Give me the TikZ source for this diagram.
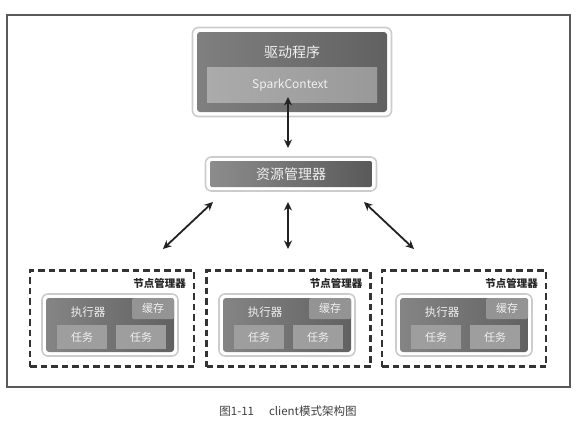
\documentclass[tikz,border=0pt]{standalone}
\usepackage{fontspec}
\setmainfont{Noto Sans CJK SC}
\usetikzlibrary{arrows.meta,calc}
\definecolor{frame}{HTML}{5A5A5A}
\definecolor{arrowc}{HTML}{222222}
\definecolor{txtl}{HTML}{F0F0F0}
\definecolor{dashc}{HTML}{333333}
\tikzset{
  glow/.style={draw=black!20, line width=1.6pt, fill=white, rounded corners=6pt, inner sep=0pt},
  darkbox/.style={rounded corners=3pt, inner sep=0pt, left color=#1, right color=black!62},
  darkbox/.default=black!52,
  lightbox/.style={fill=black!35, inner sep=0pt},
  taskbox/.style={fill=black!38, inner sep=0pt, minimum width=50pt, minimum height=24pt, font=\fontsize{11}{13}\selectfont, text=txtl},
  cachebox/.style={fill=black!42, inner sep=0pt, minimum width=42pt, minimum height=21pt, rounded corners=1.5pt, font=\fontsize{11}{13}\selectfont, text=txtl},
  wtext/.style={text=txtl, inner sep=0pt},
  nodebox/.style={draw=dashc, line width=2.1pt, dash pattern=on 6.5pt off 4pt, minimum width=164pt, minimum height=96pt, inner sep=0pt},
  nmlabel/.style={font=\fontsize{10.5}{12}\selectfont\bfseries, text=black!85, inner sep=0pt, anchor=east},
  dbl/.style={{Stealth[length=8.5pt,width=8pt]}-{Stealth[length=8.5pt,width=8pt]}, line width=1.8pt, draw=arrowc},
}
\begin{document}
\begin{tikzpicture}[x=1pt,y=-1pt]
\path[fill=white] (0,0) rectangle (579,426);
\useasboundingbox (0,0) rectangle (579,426);
\draw[frame, line width=1.3pt] (7,15) rectangle (570,387);

% driver
\node[glow, minimum width=199pt, minimum height=89pt] (drvg) at (292,72) {};
\node[darkbox=black!50, minimum width=190pt, minimum height=80pt] (drv) at (292,72) {};
\node[wtext, font=\fontsize{14}{16}\selectfont] (drvt) at (292,52) {驱动程序};
\node[lightbox, left color=black!33, right color=black!40, minimum width=170pt, minimum height=35pt] (sc) at (292,84.5) {};
\node[wtext, font=\fontsize{12}{14}\selectfont] (sct) at (290,85) {SparkContext};

% resource manager
\node[glow, minimum width=171pt, minimum height=34pt] (rmg) at (291,174) {};
\node[darkbox=black!45, right color=black!65, rounded corners=2pt, minimum width=162pt, minimum height=26pt] (rm) at (291,174) {};
\node[wtext, font=\fontsize{14}{16}\selectfont] (rmt) at (291,174) {资源管理器};

% worker nodes
\foreach \i/\nx/\ex in {1/112/110, 2/288.5/287, 3/464/464}{
  \node[nodebox] (n\i) at (\nx,318.5) {};
  \node[nmlabel] (nl\i) at ($(n\i.east)+(-9,-35.5)$) {节点管理器};
  \node[glow, minimum width=136pt, minimum height=62pt] (eg\i) at (\ex,325) {};
  \node[darkbox=black!48, minimum width=128pt, minimum height=54pt] (e\i) at (\ex,325) {};
  \node[cachebox, anchor=north east] (c\i) at (e\i.north east) {缓存};
  \node[wtext, font=\fontsize{11.5}{13}\selectfont] (et\i) at ($(e\i.center)+(-22,-13)$) {执行器};
  \node[taskbox] (ta\i) at ($(e\i.center)+(-28,12)$) {任务};
  \node[taskbox] (tb\i) at ($(e\i.center)+(31,12)$) {任务};
}

% arrows
\coordinate (a0s) at (288,97);
\coordinate (a0e) at (288,148);
\draw[dbl] (a0s) -- (a0e);
\coordinate (a1s) at (213,202);
\coordinate (a1e) at (163,249);
\coordinate (a2s) at (288,202);
\coordinate (a2e) at (288,249);
\coordinate (a3s) at (364,202);
\coordinate (a3e) at (414,249);
\draw[dbl] (a1s) -- (a1e);
\draw[dbl] (a2s) -- (a2e);
\draw[dbl] (a3s) -- (a3e);

% caption
\node[font=\fontsize{11.5}{13}\selectfont, text=black!75, inner sep=0pt] (cap) at (288,411) {图1-11\hspace{1.3em}client模式架构图};
\end{tikzpicture}
\end{document}
